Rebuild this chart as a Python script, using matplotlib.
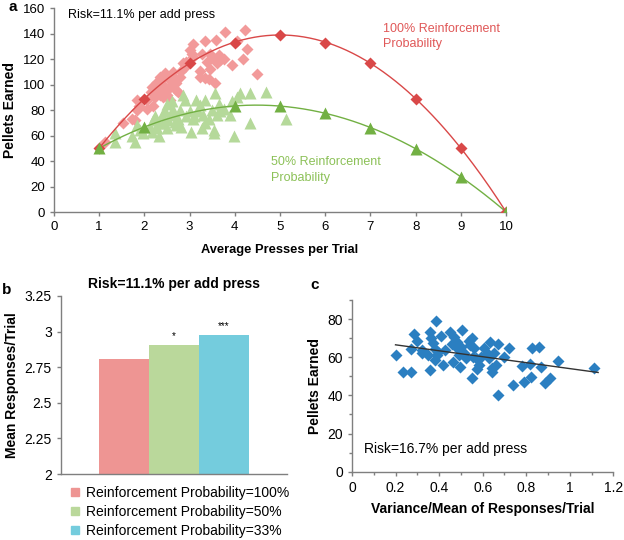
import numpy as np
import matplotlib
matplotlib.use("Agg")
import matplotlib.pyplot as plt
from matplotlib.lines import Line2D
from matplotlib.ticker import MultipleLocator

plt.rcParams['font.family'] = ['Liberation Sans', 'DejaVu Sans']
NARROW = ['Liberation Sans', 'DejaVu Sans']
NSIZE = 9

# ---------------- Panel a data ----------------
red_x = [1, 2, 3, 4, 5, 6, 7, 8, 9, 10]
red_y = [50, 89, 117, 133, 139, 133, 117, 89, 50, 0]
green_x = [1, 2, 4, 5, 6, 7, 8, 9, 10]
green_y = [50, 66.7, 83.1, 83.4, 77.4, 66.1, 49.7, 27.7, 0]

red_sx = [1.13, 1.53, 1.72, 1.79, 1.83, 1.83, 1.89, 2.05, 2.05, 2.16, 2.2, 2.23, 2.27, 2.31,
          2.35, 2.38, 2.42, 2.45, 2.49, 2.53, 2.57, 2.57, 2.6, 2.64, 2.68, 2.71, 2.75, 2.79,
          2.82, 2.86, 2.9, 2.93, 3.01, 3.05, 3.08, 3.08, 3.23, 3.27, 3.23, 3.34, 3.38, 3.34,
          3.42, 3.45, 3.45, 3.53, 3.56, 3.58, 3.6, 3.64, 3.67, 3.75, 3.79, 3.93, 4.04, 4.19,
          4.23, 4.26, 4.5, 2.2, 2.3, 2.4, 2.5, 2.62, 2.14, 2.34, 2.46, 2.7]
red_sy = [55, 70, 73, 72, 88, 80, 83, 81, 88, 98, 83, 90, 102, 96,
          106, 100, 90, 109, 96, 105, 88, 98, 102, 110, 104, 96, 94, 106,
          111, 117, 114, 118, 127, 124, 132, 122, 111, 124, 106, 134, 118, 105,
          104, 124, 112, 120, 101, 135, 117, 123, 119, 120, 141, 115, 134, 120,
          143, 128, 108, 93, 100, 104, 92, 100, 94, 92, 98, 101]

green_sx = [1.35, 1.35, 1.72, 1.79, 1.83, 1.9, 1.98, 2.12, 2.16, 2.2, 2.23, 2.27, 2.33, 2.38,
            2.42, 2.45, 2.49, 2.53, 2.57, 2.6, 2.64, 2.68, 2.71, 2.75, 2.79, 2.82, 2.85, 2.9,
            2.93, 3.01, 3.02, 3.08, 3.14, 3.19, 3.23, 3.27, 3.3, 3.34, 3.42, 3.49, 3.53, 3.56,
            3.6, 3.64, 3.67, 3.75, 3.9, 3.93, 3.98, 4.04, 4.12, 4.33, 4.34, 4.69, 5.14, 2.49,
            2.64, 2.3, 3.1, 3.35, 3.55]
green_sy = [62, 55, 60, 55, 68, 64, 62, 67, 63, 72, 75, 66, 60, 76,
            70, 79, 66, 72, 76, 87, 78, 71, 68, 73, 80, 67, 92, 88,
            75, 79, 63, 73, 88, 79, 84, 66, 76, 88, 73, 80, 64, 93,
            76, 85, 79, 81, 76, 87, 60, 90, 93, 93, 70, 94, 73, 85,
            80, 70, 75, 70, 62]

# ---------------- Panel b data ----------------
bar_labels = ['Reinforcement Probability=100%', 'Reinforcement Probability=50%',
              'Reinforcement Probability=33%']
bar_values = [2.805, 2.904, 2.974]
bar_sig = ['', '*', '***']

# ---------------- Panel c data ----------------
c_x = [0.203, 0.233, 0.271, 0.27, 0.283, 0.3, 0.32, 0.323, 0.35, 0.36, 0.36, 0.362, 0.37,
       0.38, 0.388, 0.383, 0.39, 0.395, 0.407, 0.418, 0.425, 0.448, 0.459, 0.463, 0.467,
       0.477, 0.483, 0.493, 0.498, 0.5, 0.505, 0.516, 0.525, 0.535, 0.541, 0.549, 0.553,
       0.556, 0.561, 0.568, 0.576, 0.583, 0.591, 0.606, 0.618, 0.629, 0.632, 0.641, 0.645,
       0.651, 0.659, 0.671, 0.671, 0.699, 0.719, 0.74, 0.78, 0.79, 0.82, 0.817, 0.826,
       0.859, 0.868, 0.887, 0.907, 0.946, 1.111]
c_y = [61.1, 52.4, 52.4, 64.1, 72.1, 68.3, 63.8, 62, 61.1, 73.2, 53.3, 70.2, 67.2,
       64.1, 79.1, 58.5, 61.1, 62.9, 71, 55.9, 63.8, 73.4, 66.9, 57.6, 70.7,
       65.2, 68.1, 61.3, 55, 65.5, 74.3, 62, 59.7, 68.7, 66.4, 70.2, 48.9,
       60.3, 65, 59.4, 53.6, 55.9, 59.9, 64.6, 62, 59.4, 68.1, 54.5, 52.4,
       62.4, 55.9, 66.9, 40.2, 59.9, 65, 45.4, 55.4, 47.2, 49.8, 56.4, 65,
       65.2, 55, 46.3, 48.9, 58.2, 54.1]
c_line_x = [0.2, 1.13]
c_line_y = [66.5, 52.0]

# ---------------- colours ----------------
RED_L = '#F29A9A'
RED_D = '#D94848'
GRN_L = '#B5D99A'
GRN_D = '#72B043'
BAR_COLORS = ['#EE9593', '#BAD89B', '#74CCDD']
BLUE = '#2B7FC1'
SPINE = '#7f7f7f'

fig = plt.figure(figsize=(6.24, 5.4), dpi=100)

def style(ax, size=10):
    for s in ['top', 'right']:
        ax.spines[s].set_visible(False)
    for s in ['left', 'bottom']:
        ax.spines[s].set_color(SPINE)
        ax.spines[s].set_linewidth(1.0)
    ax.tick_params(direction='out', color=SPINE, length=3, width=1, labelsize=size)
    ax.tick_params(which='minor', direction='out', color=SPINE, length=2.5, width=1)

# ---------------- Panel a ----------------
axa = fig.add_axes([0.0865, 0.6074, 0.7245, 0.3776])
style(axa, 9.5)
axa.plot(red_sx, red_sy, 'D', color=RED_L, ms=6.3, mec='none', zorder=2)
axa.plot(green_sx, green_sy, '^', color=GRN_L, ms=8, mec='none', zorder=2)
xs = np.linspace(1, 10, 200)
pr = np.polyfit(red_x, red_y, 2)
pg = np.polyfit(green_x, green_y, 3)
axa.plot(xs, np.polyval(pr, xs), '-', color=RED_D, lw=1.0, zorder=3)
axa.plot(xs, np.polyval(pg, xs), '-', color=GRN_D, lw=1.0, zorder=3)
axa.plot(red_x, red_y, 'D', color=RED_D, ms=6.5, mec='none', zorder=4)
axa.plot(green_x, green_y, '^', color=GRN_D, ms=8, mec='none', zorder=4)
axa.set_xlim(0, 10)
axa.set_ylim(0, 160)
axa.xaxis.set_major_locator(MultipleLocator(1))
axa.yaxis.set_major_locator(MultipleLocator(20))
axa.set_xlabel('Average Presses per Trial', fontsize=9.3, fontweight='bold',
               labelpad=8, family=NARROW)
axa.set_ylabel('Pellets Earned', fontsize=10, fontweight='bold', labelpad=4)
axa.text(0.03, 0.965, 'Risk=11.1% per add press', transform=axa.transAxes,
         fontsize=NSIZE, va='center', ha='left', family=NARROW)
axa.text(7.28, 138, '100% Reinforcement\nProbability', color='#E05858', fontsize=NSIZE,
         ha='left', va='center', linespacing=1.35, family=NARROW)
axa.text(4.8, 33, '50% Reinforcement\nProbability', color='#8CC158', fontsize=NSIZE,
         ha='left', va='center', linespacing=1.35, family=NARROW)
fig.text(13 / 624, 1 - 7 / 540, 'a', fontsize=11, fontweight='bold', ha='center', va='center')

# ---------------- Panel b ----------------
axb = fig.add_axes([0.0973, 0.1222, 0.3622, 0.3297])
style(axb)
pos = np.arange(len(bar_values))
axb.bar(pos, bar_values, width=1.0, color=BAR_COLORS, bottom=0)
for p, v, s in zip(pos, bar_values, bar_sig):
    if s:
        axb.text(p, v + 0.03, s, ha='center', va='bottom', fontsize=7)
axb.set_xlim(1 - 2.26, 1 + 2.26)
axb.set_ylim(2, 3.25)
axb.set_yticks([2, 2.25, 2.5, 2.75, 3, 3.25])
axb.set_yticklabels(['2', '2.25', '2.5', '2.75', '3', '3.25'])
axb.set_xticks([])
axb.set_ylabel('Mean Responses/Trial', fontsize=10, fontweight='bold', labelpad=4)
axb.set_title('Risk=11.1% per add press', fontsize=10, fontweight='bold', pad=6)
handles = [Line2D([], [], marker='s', ls='none', color=c, ms=6) for c in BAR_COLORS]
fig.legend(handles, bar_labels, loc='upper left', bbox_to_anchor=(60 / 624, 1 - 479 / 540),
           frameon=False, fontsize=10, handletextpad=0.2, labelspacing=0.36,
           handlelength=1.2, borderpad=0)
fig.text(7 / 624, 1 - 290 / 540, 'b', fontsize=11, fontweight='bold', ha='center', va='center')

# ---------------- Panel c ----------------
axc = fig.add_axes([0.564, 0.1265, 0.419, 0.318])
style(axc)
axc.plot(c_x, c_y, 'D', color=BLUE, ms=6.5, mec='none', zorder=2)
axc.plot(c_line_x, c_line_y, '-', color='#333333', lw=1.0, zorder=3)
axc.set_xlim(0, 1.2)
axc.set_ylim(0, 90)
axc.xaxis.set_minor_locator(MultipleLocator(0.1))
axc.yaxis.set_minor_locator(MultipleLocator(10))
axc.set_xticks([0, 0.2, 0.4, 0.6, 0.8, 1.0, 1.2])
axc.set_xticklabels(['0', '0.2', '0.4', '0.6', '0.8', '1', '1.2'])
axc.set_yticks([0, 20, 40, 60, 80])
axc.set_xlabel('Variance/Mean of Responses/Trial', fontsize=10, fontweight='bold', labelpad=5)
axc.set_ylabel('Pellets Earned', fontsize=10, fontweight='bold', labelpad=4)
axc.text(0.045, 0.13, 'Risk=16.7% per add press', transform=axc.transAxes,
         fontsize=10, ha='left', va='center')
fig.text(315 / 624, 1 - 285 / 540, 'c', fontsize=11, fontweight='bold', ha='center', va='center')

fig.savefig('out.png', dpi=100)
